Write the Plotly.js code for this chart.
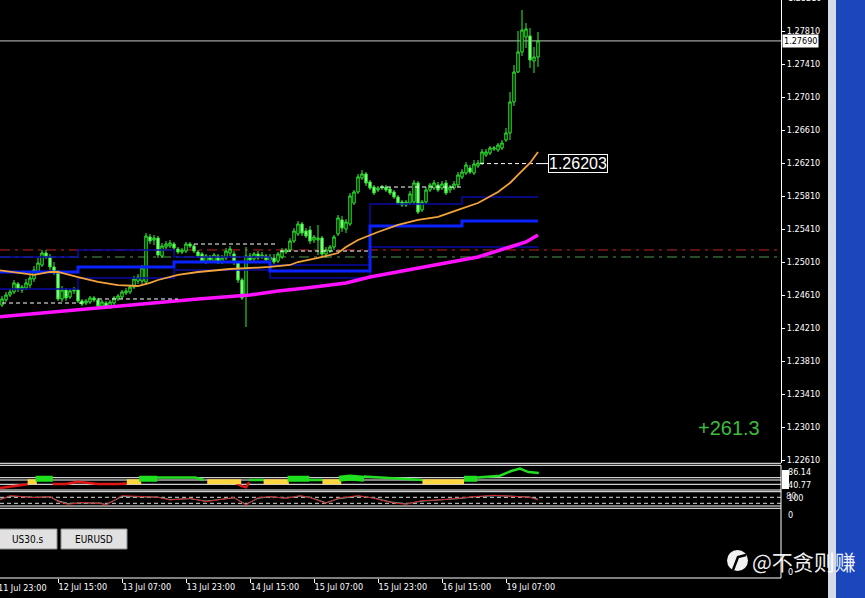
<!DOCTYPE html>
<html><head><meta charset="utf-8">
<script src="https://cdn.plot.ly/plotly-3.0.1.min.js"></script>
<style>html,body{margin:0;padding:0;background:#000;overflow:hidden}</style>
</head><body><div id="chart" style="width:865px;height:598px"></div>
<script>
// ---------------- DATA ----------------
const firstBar = 2, lastBar = 136;           // H1 bar indices (bar 0 = 11 Jul 23:00)
const open = [
1.24489,1.24550,1.24610,1.24647,1.24744,1.24671,1.24695,1.24731,1.24804,1.24889,
1.24974,1.25119,1.25071,1.24950,1.24889,1.24562,1.24671,1.24586,1.24659,1.24671,
1.24538,1.24513,1.24525,1.24574,1.24550,1.24477,1.24513,1.24465,1.24513,1.24562,
1.24586,1.24635,1.24647,1.24707,1.24780,1.24780,1.24768,1.25313,1.25277,1.25301,
1.25083,1.25192,1.25204,1.25228,1.25168,1.25131,1.25143,1.25228,1.25204,1.25131,
1.25107,1.25010,1.25071,1.25022,1.25083,1.25010,1.25059,1.25119,1.25107,1.24998,
1.24792,1.24598,1.25083,1.25047,1.25107,1.25071,1.25083,1.25035,1.25059,1.25022,
1.25071,1.25131,1.25156,1.25265,1.25350,1.25471,1.25386,1.25398,1.25277,1.25277,
1.25301,1.25107,1.25143,1.25192,1.25350,1.25520,1.25410,1.25471,1.25725,1.25859,
1.26028,1.26077,1.25980,1.25919,1.25883,1.25907,1.25919,1.25895,1.25859,1.25798,
1.25737,1.25701,1.25725,1.25737,1.25968,1.25641,1.25737,1.25883,1.25907,1.25944,
1.25907,1.25968,1.25883,1.25907,1.25944,1.26041,1.26089,1.26150,1.26089,1.26174,
1.26210,1.26307,1.26331,1.26380,1.26368,1.26392,1.26489,1.26574,1.26950,1.27313,
1.27556,1.27737,1.27750,1.27447,1.27495];
const high = [
1.24598,1.24647,1.24683,1.24792,1.24768,1.24731,1.24804,1.24853,1.24962,1.25059,
1.25156,1.25156,1.25107,1.25010,1.24913,1.24719,1.24695,1.24683,1.24707,1.24683,
1.24562,1.24562,1.24598,1.24598,1.24574,1.24550,1.24538,1.24550,1.24598,1.24622,
1.24671,1.24695,1.24731,1.24841,1.24865,1.24974,1.25362,1.25350,1.25337,1.25325,
1.25240,1.25265,1.25277,1.25253,1.25192,1.25180,1.25253,1.25253,1.25228,1.25156,
1.25131,1.25107,1.25095,1.25119,1.25107,1.25095,1.25180,1.25204,1.25143,1.25022,
1.24816,1.25192,1.25119,1.25131,1.25143,1.25131,1.25107,1.25107,1.25107,1.25131,
1.25180,1.25180,1.25301,1.25422,1.25507,1.25495,1.25422,1.25447,1.25337,1.25459,
1.25325,1.25192,1.25216,1.25337,1.25580,1.25568,1.25531,1.25847,1.25883,1.26077,
1.26126,1.26101,1.26004,1.25944,1.25931,1.25944,1.25944,1.25919,1.25883,1.25822,
1.25762,1.25762,1.25871,1.26004,1.25992,1.25762,1.25919,1.25968,1.26004,1.25980,
1.25992,1.26004,1.25944,1.25992,1.26101,1.26138,1.26222,1.26186,1.26247,1.26247,
1.26380,1.26380,1.26416,1.26416,1.26453,1.26489,1.26635,1.27071,1.27398,1.27810,
1.28065,1.27907,1.27847,1.27616,1.27798];
const low = [
1.24465,1.24525,1.24586,1.24622,1.24647,1.24635,1.24671,1.24695,1.24768,1.24853,
1.24950,1.25047,1.24913,1.24853,1.24538,1.24525,1.24538,1.24562,1.24622,1.24513,
1.24477,1.24489,1.24501,1.24525,1.24453,1.24453,1.24441,1.24441,1.24477,1.24538,
1.24562,1.24610,1.24622,1.24683,1.24744,1.24744,1.24744,1.25228,1.25216,1.25059,
1.25059,1.25156,1.25180,1.25143,1.25107,1.25107,1.25119,1.25180,1.25119,1.25059,
1.24998,1.24986,1.25010,1.24998,1.24986,1.24986,1.25035,1.25083,1.24974,1.24756,
1.24550,1.24222,1.24998,1.25022,1.25035,1.25047,1.25010,1.24998,1.24986,1.24998,
1.25047,1.25107,1.25131,1.25240,1.25325,1.25325,1.25301,1.25228,1.25240,1.25095,
1.25071,1.25059,1.25119,1.25156,1.25325,1.25374,1.25362,1.25447,1.25701,1.25835,
1.26004,1.25931,1.25883,1.25822,1.25859,1.25883,1.25859,1.25822,1.25774,1.25701,
1.25677,1.25677,1.25701,1.25701,1.25592,1.25616,1.25713,1.25859,1.25883,1.25859,
1.25883,1.25822,1.25847,1.25883,1.25919,1.26016,1.26065,1.26077,1.26065,1.26150,
1.26186,1.26283,1.26307,1.26356,1.26344,1.26368,1.26465,1.26489,1.26901,1.27301,
1.27507,1.27604,1.27362,1.27301,1.27374];
const close = [
1.24562,1.24610,1.24647,1.24756,1.24683,1.24707,1.24756,1.24816,1.24913,1.24998,
1.25119,1.25071,1.24950,1.24889,1.24562,1.24671,1.24574,1.24659,1.24671,1.24538,
1.24501,1.24538,1.24574,1.24550,1.24477,1.24525,1.24465,1.24525,1.24574,1.24598,
1.24647,1.24659,1.24707,1.24804,1.24828,1.24938,1.25325,1.25265,1.25301,1.25095,
1.25204,1.25228,1.25240,1.25180,1.25131,1.25156,1.25228,1.25204,1.25143,1.25083,
1.25022,1.25083,1.25035,1.25095,1.25010,1.25059,1.25143,1.25168,1.25010,1.24792,
1.24574,1.25083,1.25035,1.25107,1.25059,1.25095,1.25035,1.25071,1.25010,1.25107,
1.25143,1.25156,1.25265,1.25386,1.25471,1.25362,1.25325,1.25265,1.25313,1.25301,
1.25107,1.25156,1.25192,1.25313,1.25544,1.25422,1.25495,1.25810,1.25859,1.26041,
1.26077,1.25968,1.25907,1.25847,1.25907,1.25919,1.25883,1.25847,1.25798,1.25725,
1.25701,1.25737,1.25835,1.25968,1.25616,1.25737,1.25883,1.25944,1.25968,1.25883,
1.25956,1.25847,1.25919,1.25956,1.26065,1.26101,1.26186,1.26101,1.26198,1.26210,
1.26344,1.26344,1.26392,1.26392,1.26428,1.26453,1.26574,1.26950,1.27313,1.27556,
1.27822,1.27835,1.27459,1.27495,1.27690];

// moving averages (read at sample bars)
const maFastIdx = [1,6,10,14,16,21,26,31,36,39,41,46,51,59,64,69,74,76,81,86,88,91,96,101,106,111,116,121,126,129,131,134,136];
const maFast = [1.24913,1.24877,1.24853,1.24889,1.24889,1.24828,1.24768,1.24731,1.24719,1.24756,1.24792,1.24853,1.24889,1.24925,1.24938,1.24950,1.24974,1.25010,1.25059,1.25119,1.25192,1.25277,1.25374,1.25459,1.25520,1.25556,1.25641,1.25725,1.25859,1.25968,1.26065,1.26210,1.26344];
const maSlowIdx = [1,26,39,51,64,71,78,88,94,101,113,121,129,133,136];
const maSlow = [1.24344,1.24453,1.24513,1.24562,1.24610,1.24659,1.24695,1.24756,1.24828,1.24889,1.24998,1.25071,1.25192,1.25253,1.25337];

// channel step lines
const stepIdx = [1,21,45,69,94,117,136];
const chanUpper = [1.25071,1.25156,1.25071,1.24974,1.25713,1.25798,1.25798];
const chanMid   = [1.24889,1.24950,1.25010,1.24901,1.25447,1.25507,1.25507];
const chanLower = [1.24683,1.24816,1.24913,1.24816,1.25192,1.25192,1.25192];

// horizontal levels
const redLevel = 1.25156, greenLevel = 1.25071;
const dashStart = [2,26,50,71.5,96.5,121.5];
const dashEnd   = [22,46,71,94,117,136];
const dashLevel = [1.24513,1.24562,1.25228,1.25143,1.25919,1.26203];
const markedPrice = 1.26203;

// price axis ticks
const priceTicks = [1.22610,1.23010,1.23410,1.23810,1.24210,1.24610,1.25010,1.25410,1.25810,1.26210,1.26610,1.27010,1.27410,1.27810];
// time axis
const timeTickIdx = [16,32,48,64,80,96,112,128];
const timeTickText = ["12 Jul 15:00","13 Jul 07:00","13 Jul 23:00","14 Jul 15:00","15 Jul 07:00","15 Jul 23:00","16 Jul 15:00","19 Jul 07:00"];
const firstTimeLabel = "11 Jul 23:00";

// trend indicator (sub-window 1)
const yellowIdx = [8.4,10.7,null,33.2,36.8,null,53.3,61.8,null,67.4,73.7,null,82.1,86.8,null,107.1,117.5];
const yellowVal = [51.5,51.5,null,51.5,51.5,null,51.5,51.5,null,51.5,51.5,null,51.5,51.5,null,51.5,51.5];
const greenIdx = [10.4,14.7,null,36.3,40.8,null,73.4,78.8,null,86.3,89,92.5,null,117.5,120.8];
const greenVal = [61.9,61.9,null,61.9,61.9,null,61.9,61.9,null,61.9,66,61.9,null,61.9,61.9];
const thinIdx = [40.8,45,50.3,52.4,null,63.8,67.4,null,78.8,82.1,null,92.5,98,104,107.1,null,120.8,126.5,129.3,131.5,133.6,136.2];
const thinVal = [66,66,66,57.6,null,57.6,57.6,null,57.6,57.6,null,69.7,66,60,57.6,null,66,72,87.8,95.9,84.1,81.4];
const redIdx = [1.5,7.8,8.4,null,14.7,18,21,26,31,33.2,null,60.4,61.8,63,63.8];
const redVal = [31,43.1,43.1,null,44,44,52,44,44,46,null,48,38,33,50];

// stochastic (sub-window 2)
const stochIdx = [1.5,4,7,10,14,16,18.5,22,26.5,28,32,37,41,44,49,53,58,60,63,66,69,73,76.5,79,83,86,91,95,99,103,107,111,116,120,125,130,134,136];
const stochMain = [53,97,87,77,87,37,10,27,20,3,97,87,80,53,70,37,70,77,3,77,87,70,97,77,20,70,97,70,30,10,47,53,70,87,100,87,80,53];
const stochSignal = [60,90,88,80,84,45,18,24,22,8,88,88,82,58,66,42,66,75,10,70,85,72,92,80,26,64,92,74,35,14,42,52,66,84,96,90,82,60];

const profitText = "+261.3";
const buttonLabels = ["US30.s","EURUSD"];
const watermark = "@不贪则赚";

// ---------------- BUILD ----------------
const W = 865, H = 598, PR = 84, PB = 20;
const plotW = W - PR, plotH = H - PB;
const pyP = py => (plotH - py) / plotH;   // pixel row -> paper y
const pxP = px => px / plotW;             // pixel col -> paper x
const FONT = '"DejaVu Sans Condensed", "DejaVu Sans", sans-serif';
const FS = 9;

const bars = [];
for (let i = firstBar; i <= lastBar; i++) bars.push(i);

function segs(starts, ends, levels) {
  const x = [], y = [];
  starts.forEach((s, k) => { x.push(s, ends[k], null); y.push(levels[k], levels[k], null); });
  return {x, y};
}
const dashed = segs(dashStart, dashEnd, dashLevel);

const traces = [
  {type:'scatter', mode:'lines', x:stepIdx, y:chanUpper, line:{color:'#0a0aa8', width:1.5, shape:'hv'}, hoverinfo:'skip'},
  {type:'scatter', mode:'lines', x:stepIdx, y:chanLower, line:{color:'#0a0aa8', width:1.5, shape:'hv'}, hoverinfo:'skip'},
  {type:'scatter', mode:'lines', x:stepIdx, y:chanMid, line:{color:'#0a22ff', width:3, shape:'hv'}, hoverinfo:'skip'},
  {type:'scatter', mode:'lines', x:maSlowIdx, y:maSlow, line:{color:'#ff10ff', width:3.5}, hoverinfo:'skip'},
  {type:'scatter', mode:'lines', x:dashed.x, y:dashed.y, line:{color:'#ffffff', width:1, dash:'4px,3px'}, connectgaps:false, hoverinfo:'skip'},
  {type:'candlestick', x:bars, open:open, high:high, low:low, close:close,
   increasing:{line:{color:'#2ef02e', width:1}, fillcolor:'#000000'},
   decreasing:{line:{color:'#2ef02e', width:1}, fillcolor:'#a8f5a8'},
   whiskerwidth:0, hoverinfo:'skip'},
  {type:'scatter', mode:'lines', x:maFastIdx, y:maFast, line:{color:'#f4a33c', width:1.8}, hoverinfo:'skip'},
  // sub window 1
  {type:'scatter', mode:'lines', x:redIdx, y:redVal, yaxis:'y2', line:{color:'#e01515', width:2.5}, connectgaps:false, hoverinfo:'skip'},
  {type:'scatter', mode:'lines', x:thinIdx, y:thinVal, yaxis:'y2', line:{color:'#22dd22', width:2.5}, connectgaps:false, hoverinfo:'skip'},
  {type:'scatter', mode:'lines', x:yellowIdx, y:yellowVal, yaxis:'y2', line:{color:'#ffd640', width:5}, connectgaps:false, hoverinfo:'skip'},
  {type:'scatter', mode:'lines', x:greenIdx, y:greenVal, yaxis:'y2', line:{color:'#1ee01e', width:6}, connectgaps:false, hoverinfo:'skip'},
  // sub window 2
  {type:'scatter', mode:'lines', x:stochIdx, y:stochSignal, yaxis:'y3', line:{color:'#6fb4b4', width:1}, hoverinfo:'skip'},
  {type:'scatter', mode:'lines', x:stochIdx, y:stochMain, yaxis:'y3', line:{color:'#d42020', width:1}, hoverinfo:'skip'},
  // empty bottom window keeps its axis
  {type:'scatter', mode:'lines', x:[firstBar], y:[0.5], yaxis:'y4', line:{color:'rgba(0,0,0,0)'}, hoverinfo:'skip'}
];

const white = '#ffffff';
const shapes = [];
function hline(py, dash, color) {
  shapes.push({type:'line', xref:'paper', yref:'paper', x0:0, x1:1, y0:pyP(py), y1:pyP(py), line:{color:color||white, width:1, dash:dash||'solid'}, layer:'below'});
}
[463.3, 465.3, 477.7, 480, 484.3, 490, 491.7, 506, 508.3].forEach(p => hline(p));
shapes.push({type:'line', xref:'paper', yref:'paper', x0:1, x1:1, y0:0, y1:pyP(465.3), line:{color:white, width:1}});
shapes.push({type:'line', xref:'paper', yref:'paper', x0:0, x1:1, y0:0, y1:0, line:{color:white, width:1}});
// stochastic levels 80 / 20
[80, 20].forEach(v => shapes.push({type:'line', xref:'paper', yref:'y3', x0:0, x1:1, y0:v, y1:v, line:{color:'#dddddd', width:1, dash:'4px,3px'}, layer:'below'}));
// level lines in the price window
shapes.push({type:'line', xref:'paper', yref:'y', x0:0, x1:1, y0:redLevel, y1:redLevel, line:{color:'#c42424', width:1, dash:'10px,5px,3px,5px'}, layer:'below'});
shapes.push({type:'line', xref:'paper', yref:'y', x0:0, x1:1, y0:greenLevel, y1:greenLevel, line:{color:'#4f9a4f', width:1, dash:'10px,5px,3px,5px'}, layer:'below'});
// current price line
const lastPrice = close[close.length - 1];
shapes.push({type:'line', xref:'paper', yref:'y', x0:0, x1:1, y0:lastPrice, y1:lastPrice, line:{color:'#c8c8c8', width:1}, layer:'below'});
// connector to the marked price box
shapes.push({type:'line', xref:'x', yref:'y', x0:dashEnd[dashEnd.length-1], x1:138.6, y0:markedPrice, y1:markedPrice, line:{color:white, width:1}});
// right-hand window strips
shapes.push({type:'rect', xref:'paper', yref:'paper', x0:pxP(828), x1:pxP(836), y0:pyP(600), y1:pyP(-2), fillcolor:'#d5dbe7', line:{width:0}});
shapes.push({type:'rect', xref:'paper', yref:'paper', x0:pxP(836), x1:pxP(866), y0:pyP(600), y1:pyP(-2), fillcolor:'#1b47bd', line:{width:0}});
// buttons
shapes.push({type:'rect', xref:'paper', yref:'paper', x0:pxP(-1), x1:pxP(57), y0:pyP(549), y1:pyP(529), fillcolor:'#e1e1e1', line:{color:'#8c8c8c', width:1}});
shapes.push({type:'rect', xref:'paper', yref:'paper', x0:pxP(61), x1:pxP(127), y0:pyP(549), y1:pyP(529), fillcolor:'#e1e1e1', line:{color:'#8c8c8c', width:1}});
// small white indicator-value box on the axis
shapes.push({type:'rect', xref:'paper', yref:'paper', x0:pxP(782), x1:pxP(789), y0:pyP(489), y1:pyP(470), fillcolor:'#ffffff', line:{width:0}});
// watermark logo
shapes.push({type:'circle', xref:'paper', yref:'paper', x0:pxP(727), x1:pxP(748), y0:pyP(571), y1:pyP(550), fillcolor:'rgba(255,255,255,0.95)', line:{width:0}});
shapes.push({type:'path', xref:'paper', yref:'paper', path:`M ${pxP(733)} ${pyP(570)} L ${pxP(738)} ${pyP(557)} L ${pxP(746)} ${pyP(555)}`, line:{color:'#000', width:2.5}});

const axFont = {family:FONT, size:FS, color:white};
function ann(text, px, py, opts) {
  return Object.assign({text, xref:'paper', yref:'paper', x:pxP(px), y:pyP(py), showarrow:false, xanchor:'left', yanchor:'middle', font:axFont}, opts||{});
}
const annotations = [
  ann('1.28210', 786, -2),
  {text: lastPrice.toFixed(5), xref:'paper', yref:'y', x:pxP(782), y:lastPrice, showarrow:false, xanchor:'left', yanchor:'middle', bgcolor:'#ffffff', font:{family:FONT, size:FS, color:'#000'}, borderpad:1},
  {text: markedPrice.toFixed(5), xref:'x', yref:'y', x:138.6, y:markedPrice, showarrow:false, xanchor:'left', yanchor:'middle', bgcolor:'#000000', bordercolor:'#ffffff', borderwidth:1, borderpad:0, font:{family:'"Liberation Sans", Arial, sans-serif', size:16, color:white}},
  ann('86.14', 786, 471.5),
  ann('40.77', 786, 485),
  ann('100', 786, 498),
  ann('80', 784, 495.5, {font:{family:FONT, size:FS, color:'#dddddd'}}),
  ann('0', 786, 515),
  ann('0', 786, 572),
  ann(firstTimeLabel, -4, 588),
  ann(profitText, 729, 428, {xanchor:'center', font:{family:'"Liberation Sans", Arial, sans-serif', size:20, color:'#3dbb3d'}}),
  ann(buttonLabels[0], 28, 539.5, {xanchor:'center', font:{family:FONT, size:10, color:'#000'}}),
  ann(buttonLabels[1], 94, 539.5, {xanchor:'center', font:{family:FONT, size:10, color:'#000'}}),
  ann(watermark, 750, 561, {font:{family:'"Noto Sans CJK SC", sans-serif', size:21, color:'rgba(255,255,255,0.95)'}})
];

const layout = {
  width:W, height:H, margin:{l:0, r:PR, t:0, b:PB, pad:0},
  paper_bgcolor:'#000000', plot_bgcolor:'rgba(0,0,0,0)', showlegend:false, dragmode:false,
  boxgap:0.15,
  xaxis:{range:[1.5, 196.75], anchor:'y4', tickvals:timeTickIdx, ticktext:timeTickText, ticks:'outside', ticklen:4, tickcolor:white,
         tickfont:axFont, tickangle:0, ticklabelposition:'outside right', showgrid:false, zeroline:false, showline:false, rangeslider:{visible:false}, fixedrange:true},
  yaxis:{domain:[pyP(463.3), 1], range:[1.22570, 1.28186], side:'right', anchor:'x', tickvals:priceTicks, ticktext:priceTicks.map(v=>v.toFixed(5)),
         ticks:'outside', ticklen:3, tickcolor:white, tickfont:axFont, showgrid:false, zeroline:false, showline:true, linecolor:white, linewidth:1, fixedrange:true},
  yaxis2:{domain:[pyP(490), pyP(465.3)], range:[24, 107], anchor:'x', showticklabels:false, showgrid:false, zeroline:false, ticks:'', fixedrange:true},
  yaxis3:{domain:[pyP(506), pyP(491.7)], range:[-7, 136], anchor:'x', showticklabels:false, showgrid:false, zeroline:false, ticks:'', fixedrange:true},
  yaxis4:{domain:[0, pyP(508.3)], range:[0, 1], anchor:'x', showticklabels:false, showgrid:false, zeroline:false, ticks:'', fixedrange:true},
  shapes, annotations
};

Plotly.newPlot('chart', traces, layout, {staticPlot:true, displayModeBar:false});
</script></body></html>
